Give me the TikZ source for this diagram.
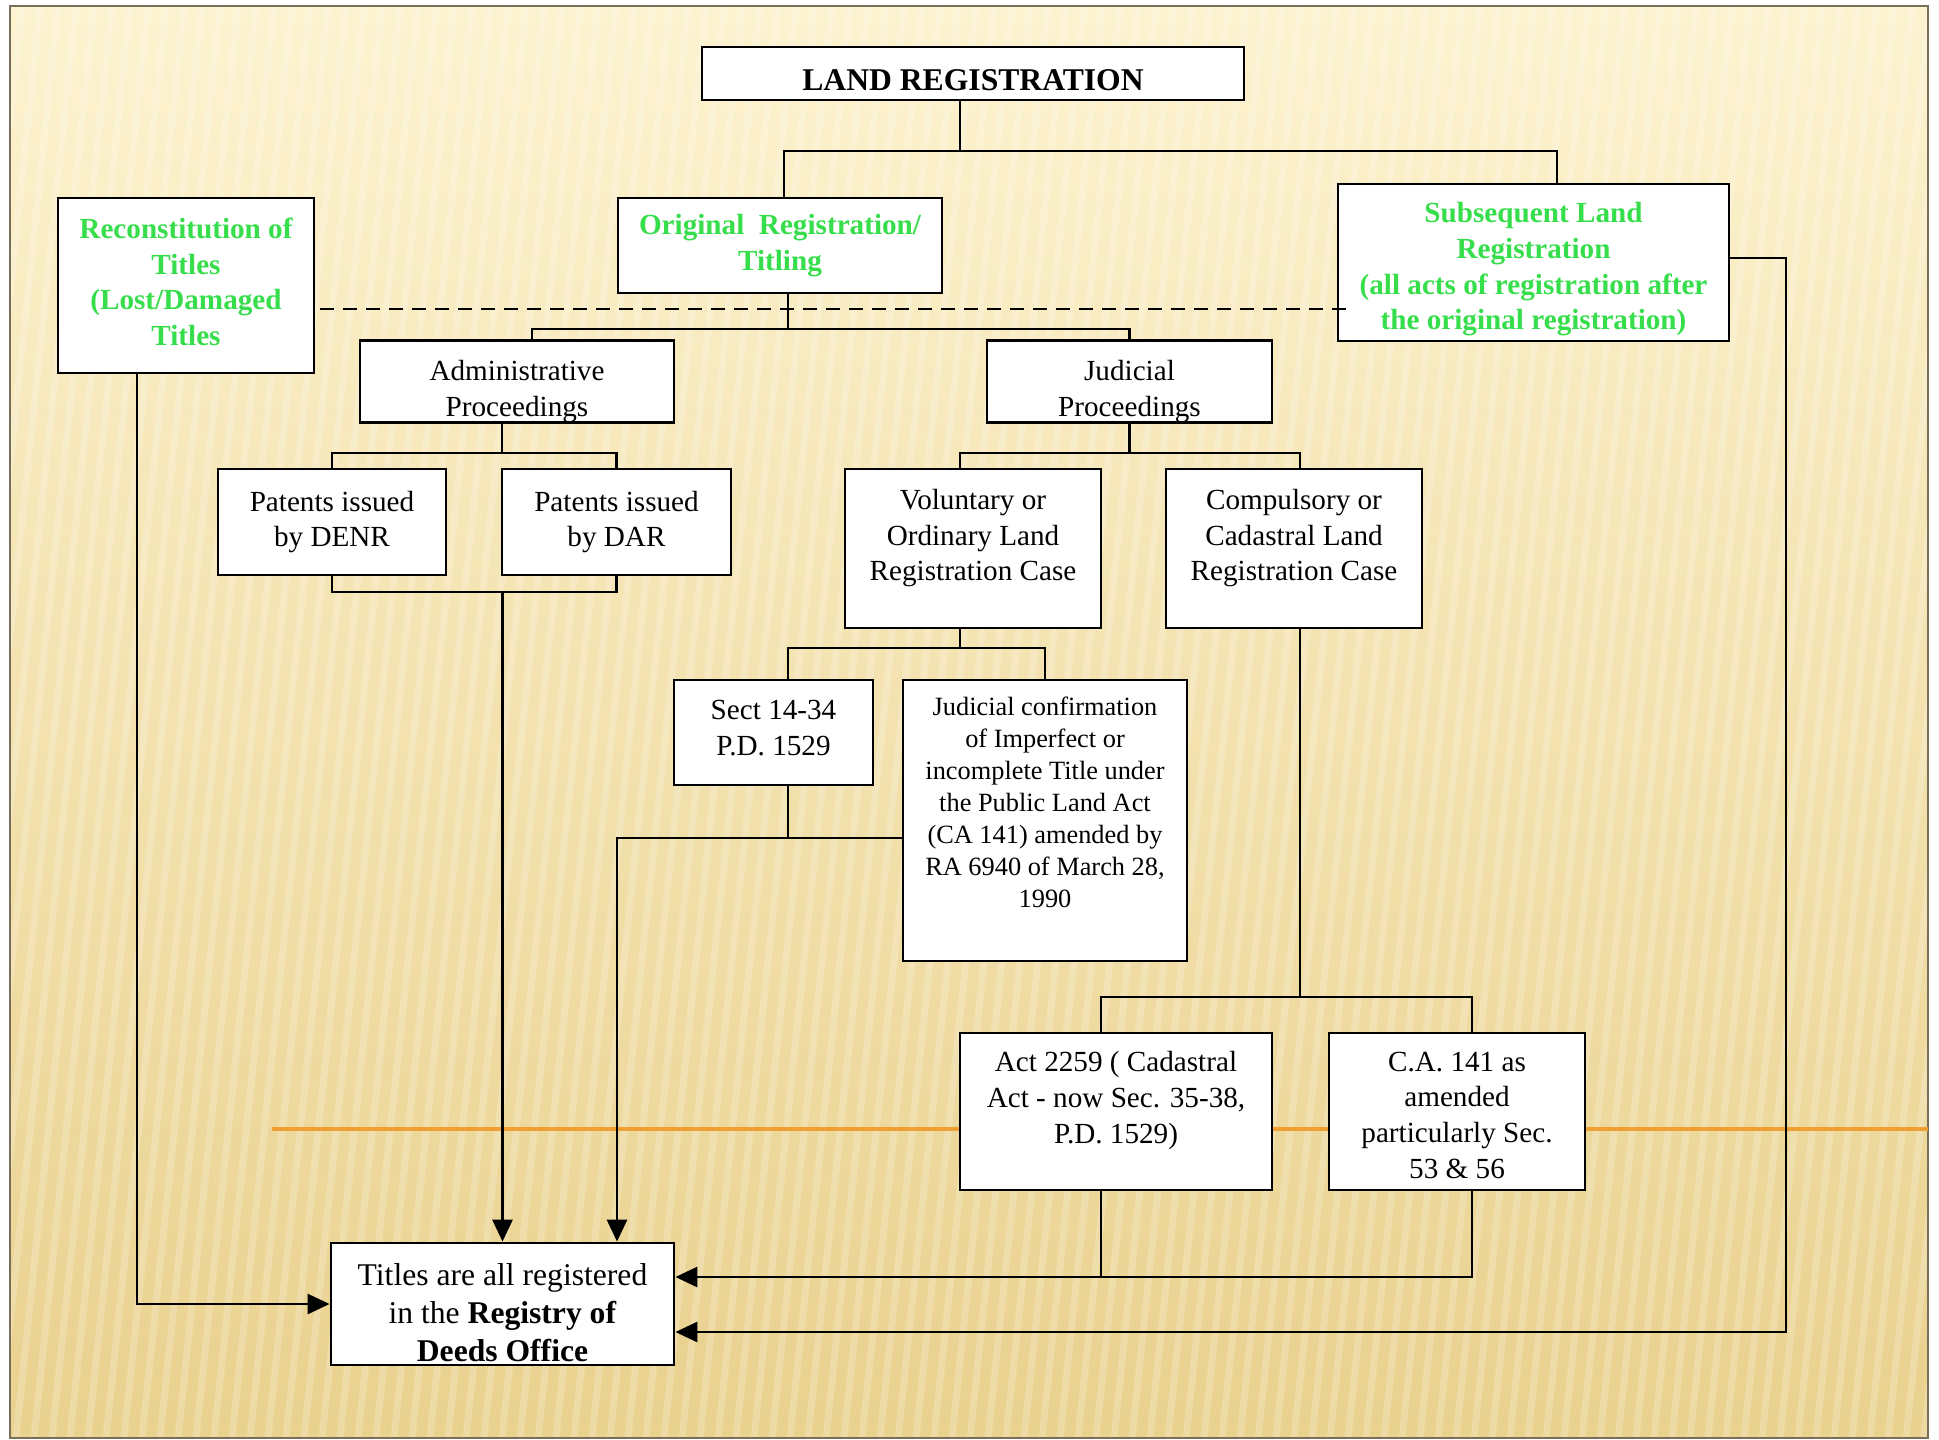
\documentclass[tikz,border=0pt]{standalone}
\usepackage{fontspec}
\setmainfont{Liberation Serif}
\usepackage{tikz}
\usetikzlibrary{arrows.meta, positioning, calc}

\definecolor{titlegreen}{RGB}{55,222,75}
\definecolor{slidetop}{RGB}{253,243,208}
\definecolor{slidebottom}{RGB}{233,209,142}
\definecolor{ruleorange}{RGB}{240,160,50}
\definecolor{framegray}{RGB}{120,110,90}

\begin{document}
\begin{tikzpicture}[x=0.1mm, y=-0.1mm,
    box/.style={draw, line width=0.8pt, fill=white, align=center, inner sep=1mm,
        font=\fontsize{8.3}{10.2}\selectfont},
    greenbox/.style={box, text=titlegreen, font=\bfseries\fontsize{8.3}{10.2}\selectfont},
    conn/.style={line width=0.6pt},
    arr/.style={line width=0.8pt, -{Triangle[length=2.2mm, width=2mm]}}]
    \useasboundingbox (0,0) rectangle (1939,1439);

    % Slide background
    \shade[top color=slidetop, bottom color=slidebottom] (10,6) rectangle (1928,1438);
    \begin{scope}
        \clip (10,6) rectangle (1928,1438);
        \foreach \sx in {-200,-182,...,1940}
            \draw[white, opacity=0.2, line width=0.7mm] (\sx,1438) -- (\sx+150,6);
    \end{scope}
    \draw[framegray, line width=0.6pt] (10,6) rectangle (1928,1438);
    \draw[ruleorange, line width=1.1pt] (272,1129) -- (1928,1129);

    % Top level
    \node[box, font=\bfseries\fontsize{9}{11}\selectfont, text height=9.5pt, inner ysep=0pt, minimum width=54.2mm, minimum height=5.3mm] (land) at (973,73.5) {LAND REGISTRATION};
    \node[greenbox, font=\bfseries\fontsize{8.3}{10.1}\selectfont, text depth=2.1pt, minimum width=25.6mm, minimum height=17.5mm] (recon) at (186,285.5) {Reconstitution of\\Titles\\(Lost/Damaged\\Titles};
    \node[greenbox, minimum width=32.4mm, minimum height=9.5mm] (orig) at (780,245.5) {Original~ Registration/\\Titling};
    \node[greenbox, text height=40.2pt, inner ysep=0pt, minimum width=39.1mm, minimum height=15.7mm] (subs) at (1533.5,262.5) {Subsequent Land\\Registration\\(all acts of registration after\\the original registration)};

    % Proceedings
    \node[box, text height=21.5pt, inner ysep=0pt, minimum width=31.4mm, minimum height=8.1mm] (admin) at (517,381.5) {Administrative\\Proceedings};
    \node[box, text height=21.5pt, inner ysep=0pt, minimum width=28.5mm, minimum height=8.1mm] (jud) at (1129.5,381.5) {Judicial\\Proceedings};
    \node[box, minimum width=22.8mm, minimum height=10.6mm] (denr) at (332,522) {Patents issued\\by DENR};
    \node[box, minimum width=22.9mm, minimum height=10.6mm] (dar) at (616.5,522) {Patents issued\\by DAR};
    \node[box, minimum width=25.6mm, minimum height=15.9mm, text depth=2.7mm] (vol) at (973,548.5) {Voluntary or\\Ordinary Land\\Registration Case};
    \node[box, minimum width=25.6mm, minimum height=15.9mm, text depth=2.7mm] (comp) at (1294,548.5) {Compulsory or\\Cadastral Land\\Registration Case};
    \node[box, text depth=1mm, minimum width=19.9mm, minimum height=10.5mm] (sect) at (773.5,732.5) {Sect 14-34\\P.D. 1529};
    \node[box, font=\fontsize{7.5}{9.1}\selectfont, minimum width=28.4mm, minimum height=28.1mm, text depth=3.7mm] (judconf) at (1045,820.5) {Judicial confirmation\\of Imperfect or\\incomplete Title under\\the Public Land Act\\(CA 141) amended by\\RA 6940 of March 28,\\1990};
    \node[box, minimum width=31.2mm, minimum height=15.7mm, text depth=2.8mm] (act) at (1116,1111.5) {Act 2259 ( Cadastral\\Act - now Sec. 35-38,\\P.D. 1529)};
    \node[box, text height=38.3pt, inner ysep=0pt, minimum width=25.6mm, minimum height=15.7mm] (ca) at (1457,1111.5) {C.A. 141 as\\amended\\particularly Sec.\\53 \& 56};
    \node[box, font=\fontsize{9}{10.9}\selectfont, text height=32.9pt, inner ysep=0pt, minimum width=34.3mm, minimum height=12.2mm] (titles) at (502.5,1304) {Titles are all registered\\in the \textbf{Registry of}\\\textbf{Deeds Office}};

    % Tree connectors
    \draw[conn] ([xshift=-1.3mm]land.south) -- ++(0,51);
    \draw[conn] (orig.north -| 784,0) |- (1557,151) -- (subs.north -| 1557,0);
    \draw[conn, dash pattern=on 1.4mm off 0.9mm] ([xshift=0.5mm]recon.east |- 0,309) -- (1354,309);
    \draw[conn] (orig.south -| 788,0) -- (788,329);
    \draw[conn] (admin.north -| 532,0) |- (jud.north |- 0,329) -- (jud.north);
    \draw[conn] (admin.south -| 502,0) -- (502,453);
    \draw[conn] (denr.north) |- (dar.north |- 0,453) -- (dar.north);
    \draw[conn] (denr.south) |- (dar.south |- 0,592) -- (dar.south);
    \draw[conn] (jud.south) -- (jud.south |- 0,453);
    \draw[conn] (vol.north -| 960,0) |- (1300,453) -- (comp.north -| 1300,0);
    \draw[conn] (vol.south -| 960,0) -- (960,648);
    \draw[conn] (sect.north -| 788,0) |- (judconf.north |- 0,648) -- (judconf.north);
    \draw[conn] (sect.south -| 788,0) -- (788,838);
    \draw[conn] (comp.south -| 1300,0) -- (1300,997);
    \draw[conn] (act.north -| 1101,0) |- (1472,997) -- (ca.north -| 1472,0);
    \draw[conn] (act.south -| 1101,0) -- (1101,1277);

    % Arrows into the registry
    \draw[arr] (titles.north |- 0,592) -- (titles.north);
    \draw[arr] (judconf.west |- 0,838) -| (titles.north -| 617,0);
    \draw[arr] (ca.south -| 1472,0) |- (titles.east |- 0,1277);
    \draw[arr] (subs.east |- 0,258) -| (1786,1332) -- (titles.east |- 0,1332);
    \draw[arr] (recon.south -| 137,0) |- (titles.west);
\end{tikzpicture}
\end{document}
